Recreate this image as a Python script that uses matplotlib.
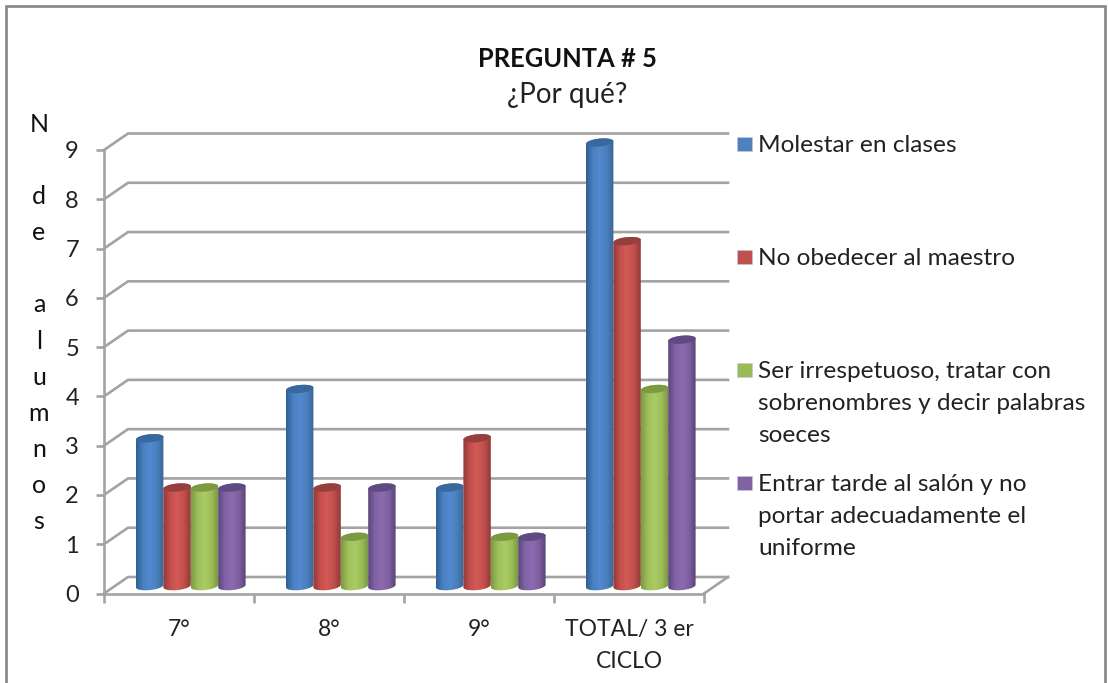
import numpy as np
import matplotlib
matplotlib.use('Agg')
import matplotlib.pyplot as plt
from matplotlib.colors import LinearSegmentedColormap
from matplotlib.patches import PathPatch, Rectangle
from matplotlib.path import Path

W, H = 1109, 683

categories = ['7°', '8°', '9°', 'TOTAL/ 3 er\nCICLO']
molestar = [3, 4, 2, 9]
obedecer = [2, 2, 3, 7]
irrespetuoso = [2, 1, 1, 4]
tarde = [2, 2, 1, 5]
series = [molestar, obedecer, irrespetuoso, tarde]
legend_labels = [
    'Molestar en clases',
    'No obedecer al maestro',
    'Ser irrespetuoso, tratar con\nsobrenombres y decir palabras\nsoeces',
    'Entrar tarde al salón y no\nportar adecuadamente el\nuniforme',
]
y_label = 'N\n\nd\ne\n\na\nl\nu\nm\nn\no\ns'

swatch = ['#4f81bd', '#c0504d', '#9bbb59', '#8064a2']
tops = ['#39689e', '#96403d', '#7b9a41', '#5f4a82']
ramps = [
    ['#2f5f94', '#4a80c0', '#528ad0', '#4a7fbd', '#3a6699'],
    ['#8f3a38', '#c54f4c', '#d25a57', '#c24f4c', '#8e3c3a'],
    ['#7d9c42', '#a0c05c', '#aacb64', '#9dbc58', '#769340'],
    ['#5c4679', '#8263a6', '#8a6bb0', '#7f61a0', '#5a4477'],
]
grid_color = '#a3a3a3'
text_color = '#222222'

plt.rcParams['font.family'] = ['Lato', 'DejaVu Sans']

fig = plt.figure(figsize=(W / 100, H / 100), dpi=100)
# plot box is the front face of the 3D chart
unit = 443.5 / 9
ax = fig.add_axes([104 / W, (H - 593.5) / H, 600 / W, 443.5 / H])
ax.set_xlim(0, 4)
ax.set_ylim(0, 9)
ax.patch.set_alpha(0)

depth_x = 24 / 150
depth_y = 16.5 / unit

# floor and back wall lines
for v in range(10):
    ax.plot([0, depth_x, 4 + depth_x], [v, v + depth_y, v + depth_y],
            color=grid_color, lw=1.9, clip_on=False, zorder=1, solid_joinstyle='miter')
ax.plot([4, 4 + depth_x], [0, depth_y], color=grid_color, lw=1.9, clip_on=False, zorder=1)

# cylinders
bar_w = 27.4 / 150
start = 32 / 150
lift = 0.15
rx = bar_w / 2
ry = 4.0 / unit
tilt = 1.3 / unit
t = np.linspace(0, np.pi, 40)
for s, vals in enumerate(series):
    cmap = LinearSegmentedColormap.from_list('c%d' % s, ramps[s])
    for g, v in enumerate(vals):
        x0 = g + start + s * bar_w
        cx = x0 + rx
        y1 = v + lift
        # body outline: top half of the ellipse at the top, bottom half at the base
        px = np.r_[cx - rx * np.cos(t), cx + rx * np.cos(t)]
        py = np.r_[y1 + ry * np.sin(t) - tilt * np.cos(t), lift - ry * np.sin(t) + tilt * np.cos(t)]
        body = PathPatch(Path(np.c_[px, py]), fc='none', ec='none', transform=ax.transData)
        ax.add_patch(body)
        im = ax.imshow(np.linspace(0, 1, 64).reshape(1, -1), cmap=cmap, aspect='auto',
                       extent=[x0, x0 + bar_w, lift - ry - tilt, y1 + ry + tilt],
                       zorder=3 + s * 0.1, interpolation='bilinear')
        im.set_clip_box(fig.bbox)
        im.set_clip_path(body)
        ex = cx + rx * np.cos(2 * t)
        ey = y1 + ry * np.sin(2 * t) + tilt * np.cos(2 * t)
        ax.fill(ex, ey, color=tops[s], lw=0, zorder=3.05 + s * 0.1, clip_on=False)
ax.set_xlim(0, 4)
ax.set_ylim(0, 9)

for side in ['top', 'right']:
    ax.spines[side].set_visible(False)
for side in ['left', 'bottom']:
    ax.spines[side].set_color(grid_color)
    ax.spines[side].set_linewidth(1.9)
    ax.spines[side].set_zorder(2)

ax.set_yticks(range(10))
ax.tick_params(axis='y', length=6, width=1.9, color=grid_color, labelsize=17,
               labelcolor=text_color, pad=12)
ax.set_xticks(range(5))
ax.set_xticklabels([])
ax.tick_params(axis='x', which='major', length=6.5, width=1.9, color=grid_color)
ax.set_xticks(np.arange(4) + 0.5, minor=True)
ax.set_xticklabels(categories, minor=True, fontsize=16.5, color=text_color, linespacing=1.63)
ax.tick_params(axis='x', which='minor', length=0, pad=18.5)


def fx(x):
    return x / W


def fy(y):
    return 1 - y / H


# outer chart frame, cut by the image at the bottom
fig.add_artist(Rectangle((fx(6), fy(700)), fx(1099), fy(6) - fy(700), fc='none',
                         ec='#8c8c8c', lw=2, transform=fig.transFigure))

fig.text(fx(567), fy(59), 'PREGUNTA # 5', ha='center', va='center', fontsize=18.4,
         fontweight='bold', color='#111111')
fig.text(fx(567), fy(95), '¿Por qué?', ha='center', va='center', fontsize=20, color=text_color)
fig.text(fx(39), fy(323), y_label, ha='center', va='center', fontsize=18, color='#111111',
         linespacing=1.69, multialignment='center')

# legend
legend_y = [144, 257, 370, 483]
for c, y, lab in zip(swatch, legend_y, legend_labels):
    fig.add_artist(Rectangle((fx(737), fy(y + 7)), 15 / W, 14 / H, fc=c, ec='#b9cde5', lw=0.4,
                             transform=fig.transFigure))
    fig.text(fx(758), fy(y - 9), lab, ha='left', va='top', fontsize=17.6, color=text_color,
             linespacing=1.65)

fig.savefig('out.png', dpi=100)
